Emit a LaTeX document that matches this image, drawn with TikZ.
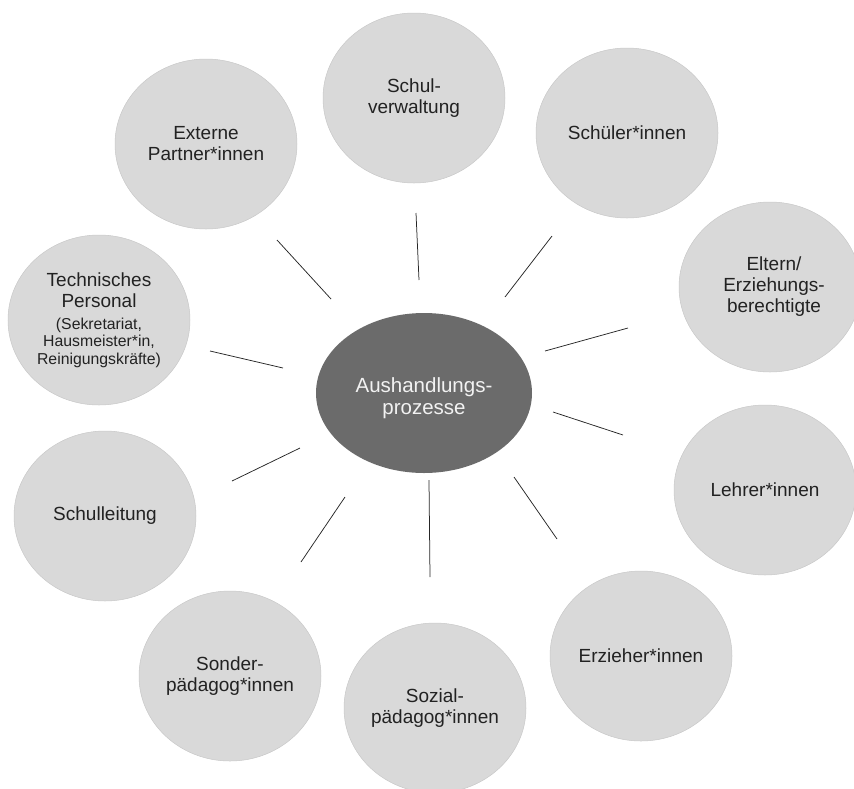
\documentclass[tikz,border=0pt]{standalone}
\usepackage{fontspec}
\setmainfont{Liberation Sans}
\usetikzlibrary{shapes.geometric}
\definecolor{bubble}{HTML}{D9D9D9}
\definecolor{bubbleedge}{HTML}{C8C8C8}
\definecolor{hub}{HTML}{6B6B6B}
\definecolor{hubtext}{HTML}{F2F2F2}
\definecolor{labeltext}{HTML}{222222}
\newcommand\smalllbl{\fontsize{15.8}{17.5}\selectfont}
\begin{document}
\begin{tikzpicture}[x=1pt,y=-1pt,
  party/.style={ellipse, minimum width=182pt, minimum height=170pt, inner sep=0pt,
    fill=bubble, draw=bubbleedge, line width=0.5pt, text=labeltext, align=center,
    font=\fontsize{19}{21}\selectfont},
  hubnode/.style={ellipse, minimum width=216pt, minimum height=160pt, inner sep=0pt,
    fill=hub, draw=none},
  hublabel/.style={text=hubtext, align=center, inner sep=0pt,
    font=\fontsize{20.5}{21.5}\selectfont},
  spoke/.style={line width=0.75pt, draw=black!85}]
\useasboundingbox (0,0) rectangle (854,788);
\clip (0,0) rectangle (854,788);

% central process
\node[hubnode] (hub) at (424,393) {};
\node[hublabel] (hubtxt) at (424,398) {Aushandlungs-\\prozesse};

% surrounding groups
\node[party] (verw)    at (414,98)  {Schul-\\verwaltung};
\node[party] (schuel)  at (627,133) {Schüler*innen};
\node[party] (eltern)  at (770,287) {\hspace*{8pt}Eltern/\\\hspace*{8pt}Erziehungs-\\\hspace*{8pt}berechtigte};
\node[party] (lehrer)  at (765,490) {Lehrer*innen};
\node[party] (erzieh)  at (641,656) {Erzieher*innen};
\node[party] (sozial)  at (435,708) {Sozial-\\pädagog*innen};
\node[party] (sonder)  at (230,676) {Sonder-\\pädagog*innen};
\node[party] (leitung) at (105,516) {Schulleitung};
\node[party] (technik) at (99,320)  {Technisches\\Personal\\[1pt]\smalllbl (Sekretariat,\\[-3.5pt]\smalllbl Hausmeister*in,\\[-3.5pt]\smalllbl Reinigungskräfte)};
\node[party] (extern)  at (206,144) {Externe\\Partner*innen};

% free-standing spokes between the hub and each group
\coordinate (e1) at (277,240); \coordinate (e2) at (331,299);
\coordinate (v1) at (416,213); \coordinate (v2) at (419,280);
\coordinate (s1) at (552,236); \coordinate (s2) at (505,297);
\coordinate (p1) at (628,328); \coordinate (p2) at (545,351);
\coordinate (l1) at (553,412); \coordinate (l2) at (623,435);
\coordinate (z1) at (514,477); \coordinate (z2) at (557,539);
\coordinate (so1) at (429,480); \coordinate (so2) at (430,577);
\coordinate (sp1) at (345,497); \coordinate (sp2) at (301,562);
\coordinate (sl1) at (300,448); \coordinate (sl2) at (232,481);
\coordinate (t1) at (283,368); \coordinate (t2) at (210,351);

\draw[spoke] (e1) -- (e2);
\draw[spoke] (v1) -- (v2);
\draw[spoke] (s1) -- (s2);
\draw[spoke] (p1) -- (p2);
\draw[spoke] (l1) -- (l2);
\draw[spoke] (z1) -- (z2);
\draw[spoke] (so1) -- (so2);
\draw[spoke] (sp1) -- (sp2);
\draw[spoke] (sl1) -- (sl2);
\draw[spoke] (t1) -- (t2);
\end{tikzpicture}
\end{document}
